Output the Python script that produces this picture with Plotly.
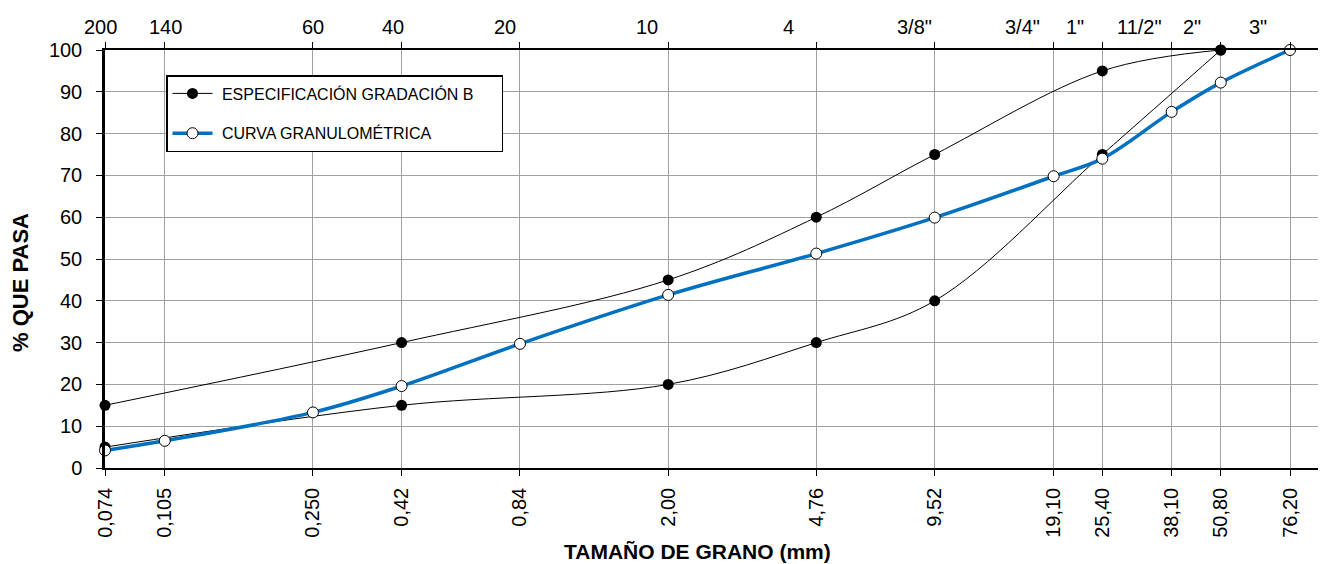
import math
import plotly.graph_objects as go

# ---------------- data ----------------
sizes_mm = [0.074, 0.105, 0.250, 0.42, 0.84, 2.00, 4.76, 9.52, 19.10, 25.40, 38.10, 50.80, 76.20]
size_labels = ["0,074", "0,105", "0,250", "0,42", "0,84", "2,00", "4,76", "9,52",
               "19,10", "25,40", "38,10", "50,80", "76,20"]
sieve_labels = ["200", "140", "60", "40", "20", "10", "4", '3/8"', '3/4"', '1"', '11/2"', '2"', '3"']

spec_x = [0.074, 0.42, 2.00, 4.76, 9.52, 25.40, 50.80]
spec_upper = [15, 30, 45, 60, 75, 95, 100]
spec_lower = [5, 15, 20, 30, 40, 75, 100]

curve_x = sizes_mm
curve_y = [4.2, 6.5, 13.3, 19.6, 29.7, 41.4, 51.3, 59.9, 69.8, 74.0, 85.2, 92.2, 100]

y_ticks = list(range(0, 101, 10))

# ---------------- style ----------------
FONT = "Liberation Sans, Arial, sans-serif"
GRID = "#a0a0a0"
BLUE = "#0070C0"
# horizontal offsets of the top sieve labels relative to their grid line (px)
top_shift = [-5, 1, 0, -9, -15, -21, -28, -20, -31, -27, -32, -29, -32]

fig = go.Figure()

fig.add_trace(go.Scatter(
    x=spec_x, y=spec_upper, mode="lines+markers",
    name="\u00a0ESPECIFICACIÓN GRADACIÓN B\u00a0\u00a0\u00a0\u00a0\u00a0", legendgroup="spec",
    line=dict(color="black", width=1, shape="spline", smoothing=1.0),
    marker=dict(color="black", size=11, symbol="circle"),
    cliponaxis=False,
))
fig.add_trace(go.Scatter(
    x=spec_x, y=spec_lower, mode="lines+markers",
    name="ESPECIFICACIÓN GRADACIÓN B", legendgroup="spec", showlegend=False,
    line=dict(color="black", width=1, shape="spline", smoothing=1.0),
    marker=dict(color="black", size=11, symbol="circle"),
    cliponaxis=False,
))
fig.add_trace(go.Scatter(
    x=curve_x, y=curve_y, mode="lines+markers",
    name="\u00a0CURVA GRANULOMÉTRICA", legendgroup="curve",
    line=dict(color=BLUE, width=3.5, shape="spline", smoothing=1.0),
    marker=dict(color="white", size=11, symbol="circle", line=dict(color="black", width=1)),
    cliponaxis=False,
))

# page body has an 8px default margin; compensate so the plot lands where the reference has it
OFF = 8
W, H = 1326 - OFF, 564 - OFF
L, R, T, B = 105 - OFF, 0, 50 - OFF, 96
plot_w = W - L - R
plot_h = H - T - B
px_per_dec = (1290 - 105) / (math.log10(curve_x[-1]) - math.log10(curve_x[0]))
x0 = math.log10(sizes_mm[0])
x1 = x0 + plot_w / px_per_dec

fig.update_layout(
    width=W, height=H,
    margin=dict(l=L, r=R, t=T, b=B, autoexpand=False),
    paper_bgcolor="white", plot_bgcolor="white",
    font=dict(family=FONT, color="black", size=20),
    showlegend=True,
    legend=dict(
        x=(166 - 105) / plot_w, y=(468 - 75) / plot_h,
        xanchor="left", yanchor="top",
        bgcolor="white", bordercolor="black", borderwidth=1.5,
        font=dict(size=16, family=FONT),
        tracegroupgap=16,
        itemwidth=40,
    ),
    xaxis=dict(
        type="log", range=[x0, x1],
        tickvals=sizes_mm, ticktext=size_labels, tickangle=-90,
        ticks="outside", ticklen=6, tickcolor="black", tickwidth=1,
        showgrid=True, gridcolor=GRID, gridwidth=1,
        showline=True, linecolor="black", linewidth=1.5,
        zeroline=False, ticklabelstandoff=4,
        tickfont=dict(size=20),
        automargin=False,
    ),
    xaxis2=dict(
        type="log", range=[x0, x1], overlaying="x", side="top",
        tickvals=sizes_mm, showticklabels=False,
        ticks="outside", ticklen=6, tickcolor="black", tickwidth=1,
        showgrid=False, showline=True, linecolor="black", linewidth=1.5,
        zeroline=False, automargin=False,
    ),
    yaxis=dict(
        range=[0, 100], tickvals=y_ticks,
        ticks="outside", ticklen=6, tickcolor="black",
        showgrid=True, gridcolor=GRID, gridwidth=1,
        showline=True, linecolor="black", linewidth=2.5,
        zeroline=False, ticklabelstandoff=10,
        tickfont=dict(size=20),
        automargin=False,
    ),
)

# invisible trace to activate top axis
fig.add_trace(go.Scatter(x=[sizes_mm[0]], y=[0], xaxis="x2", mode="markers",
                         marker=dict(opacity=0), showlegend=False, hoverinfo="skip"))

# top sieve labels
for s, lab, dx in zip(sizes_mm, sieve_labels, top_shift):
    fig.add_annotation(x=math.log10(s), y=1, xref="x", yref="paper",
                       text=lab, showarrow=False, xanchor="center", yanchor="bottom",
                       xshift=dx, yshift=10, font=dict(size=20, family=FONT))

# axis titles
mid = 0.5 * (math.log10(sizes_mm[0]) + math.log10(sizes_mm[-1]))
fig.add_annotation(x=mid, y=0, xref="x", yref="paper", text="<b>TAMAÑO DE GRANO (mm)</b>",
                   showarrow=False, xanchor="center", yanchor="middle", yshift=-83,
                   font=dict(size=21, family=FONT))
fig.add_annotation(x=0, y=(468 - 283) / plot_h, xref="paper", yref="paper",
                   text="<b>% QUE PASA</b>", textangle=-90,
                   showarrow=False, xanchor="center", yanchor="middle", xshift=-85,
                   font=dict(size=22, family=FONT))

fig.write_html("out.html")
